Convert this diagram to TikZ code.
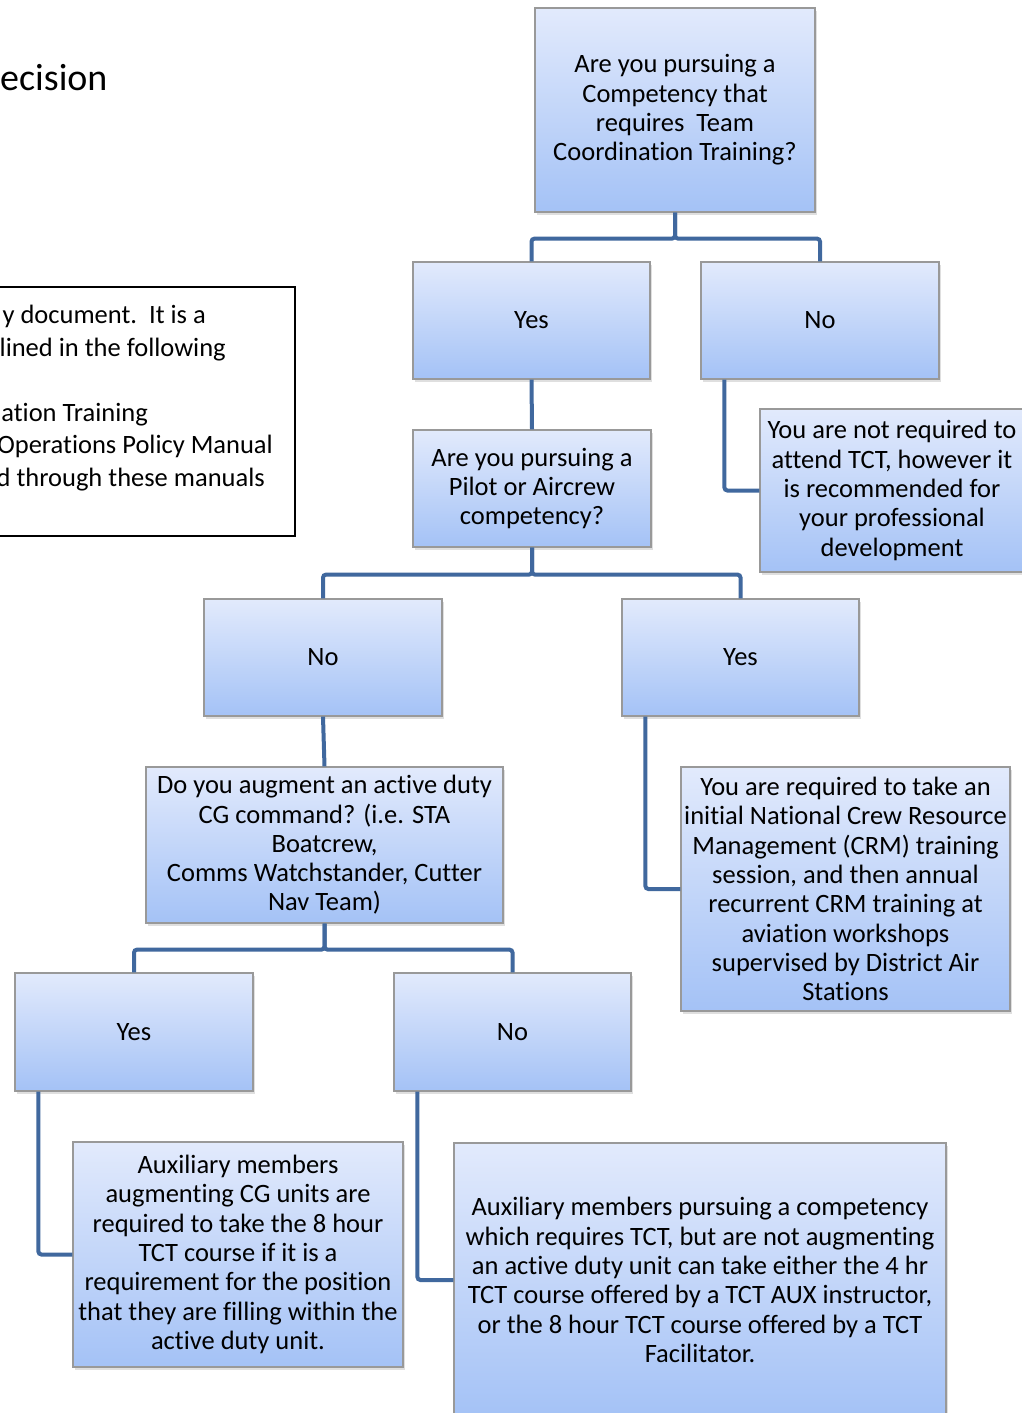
\documentclass[tikz,border=0pt]{standalone}
\usepackage{fontspec}
\setmainfont[Ligatures=NoCommon]{Carlito}
\usetikzlibrary{shadows}
\definecolor{lineblue}{RGB}{64,104,158}
\definecolor{boxtop}{RGB}{226,234,252}
\definecolor{boxbot}{RGB}{164,194,246}
\begin{document}
\begin{tikzpicture}[x=1pt, y=-1pt,
    box/.style={draw=gray!80, line width=1.2pt, top color=boxtop, bottom color=boxbot,
      align=center, inner sep=0pt, font=\fontsize{26.5}{29.3}\selectfont,
      drop shadow={shadow xshift=2pt, shadow yshift=-3pt, opacity=0.25}},
    conn/.style={draw=lineblue, line width=4pt, rounded corners=3pt},
    note/.style={anchor=base east, inner sep=0pt, font=\fontsize{26.5}{29}\selectfont}]
  \useasboundingbox (0,0) rectangle (1022,1413);
  \clip (0,0) rectangle (1022,1413);
  \fill [white] (0,0) rectangle (1022,1413);
  % left part of the page
  \node [anchor=base west, inner sep=0pt, font=\fontsize{38}{42}\selectfont] (title) at (0,90) {ecision};
  \draw [line width=2pt] (-10,287) rectangle (295,536);
  \node [note] (la) at (206,323) {y document.\ \ It is a};
  \node [note] (lb) at (226,356) {lined in the following};
  \node [note] (lc) at (148,421) {ation Training};
  \node [note] (ld) at (273,453) {Operations Policy Manual};
  \node [note] (le) at (265,486) {d through these manuals};
  % boxes
  \node [box, minimum width=280pt, minimum height=204pt] (top) at (675,110)
    {Are you pursuing a\\Competency that\\requires\ \ Team\\Coordination Training?};
  \node [box, minimum width=237pt, minimum height=117pt] (yesA) at (531.5,320.5) {Yes};
  \node [box, minimum width=238pt, minimum height=117pt] (noA) at (820,320.5) {No};
  \node [box, minimum width=238pt, minimum height=117pt] (pilot) at (532,488.5)
    {Are you pursuing a\\Pilot or Aircrew\\competency?};
  \node [box, minimum width=264pt, minimum height=163pt] (notreq) at (892,490.5)
    {You are not required to\\attend TCT, however it\\is recommended for\\your professional\\development};
  \node [box, minimum width=238pt, minimum height=117pt] (noB) at (323,657.5) {No};
  \node [box, minimum width=237pt, minimum height=117pt] (yesB) at (740.5,657.5) {Yes};
  \node [box, minimum width=357pt, minimum height=156pt] (augment) at (324.5,845)
    {Do you augment an active duty\\CG command? (i.e. STA\\Boatcrew,\\Comms Watchstander, Cutter\\Nav Team)};
  \node [box, minimum width=329pt, minimum height=244pt] (crm) at (845.5,889)
    {You are required to take an\\initial National Crew Resource\\Management (CRM) training\\session, and then annual\\recurrent CRM training at\\aviation workshops\\supervised by District Air\\Stations};
  \node [box, minimum width=238pt, minimum height=118pt] (yesC) at (134,1032) {Yes};
  \node [box, minimum width=237pt, minimum height=118pt] (noC) at (512.5,1032) {No};
  \node [box, minimum width=330pt, minimum height=225pt] (auxA) at (238,1254.5)
    {Auxiliary members\\augmenting CG units are\\required to take the 8 hour\\TCT course if it is a\\requirement for the position\\that they are filling within the\\active duty unit.};
  \node [box, minimum width=492pt, minimum height=274pt] (auxB) at (700,1280)
    {Auxiliary members pursuing a competency\\which requires TCT, but are not augmenting\\an active duty unit can take either the 4 hr\\TCT course offered by a TCT AUX instructor,\\or the 8 hour TCT course offered by a TCT\\Facilitator.};
  % connectors
  \draw [conn] (top.south) --++ (0,26) -| (yesA.north);
  \draw [conn] (top.south) --++ (0,26) -| (noA.north);
  \draw [conn] (yesA.south) -- (pilot.north);
  \draw [conn] ([xshift=24pt]noA.south west) |- (notreq.west);
  \draw [conn] (pilot.south) --++ (0,27) -| (noB.north);
  \draw [conn] (pilot.south) --++ (0,27) -| (yesB.north);
  \draw [conn] (noB.south) -- (augment.north);
  \draw [conn] ([xshift=24pt]yesB.south west) |- (crm.west);
  \draw [conn] (augment.south) --++ (0,26) -| (yesC.north);
  \draw [conn] (augment.south) --++ (0,26) -| (noC.north);
  \draw [conn] ([xshift=24pt]yesC.south west) |- (auxA.west);
  \draw [conn] ([xshift=24pt]noC.south west) |- (auxB.west);
\end{tikzpicture}
\end{document}
